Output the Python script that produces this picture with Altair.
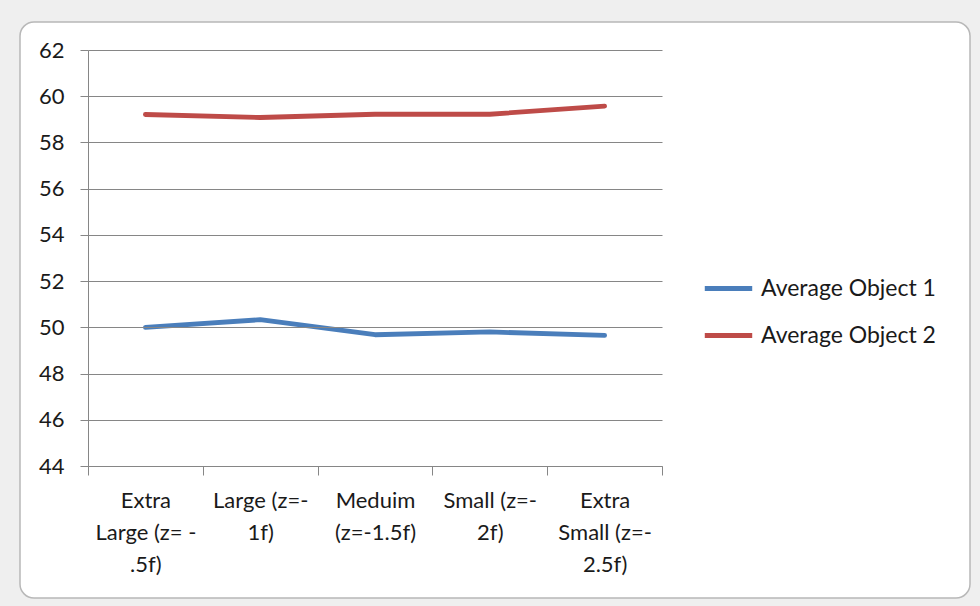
import altair as alt
import pandas as pd

# Size categories along the x axis (label lines separated by "\n")
categories = [
    "Extra\nLarge (z= -\n.5f)",
    "Large (z=-\n1f)",
    "Meduim\n(z=-1.5f)",
    "Small (z=-\n2f)",
    "Extra\nSmall (z=-\n2.5f)",
]
object1 = [50.0, 50.33, 49.68, 49.8, 49.65]
object2 = [59.21, 59.08, 59.22, 59.22, 59.57]
series_names = ["Average Object 1", "Average Object 2"]
series_colors = ["#4a7ebb", "#be4b48"]
y_ticks = list(range(44, 63, 2))

rows = []
for i, c in enumerate(categories):
    rows.append({"cat": c, "order": i, "series": series_names[0], "value": object1[i]})
    rows.append({"cat": c, "order": i, "series": series_names[1], "value": object2[i]})
df = pd.DataFrame(rows)

FONT = "Lato"
TEXT = "#1a1a1a"

frame = alt.Chart(alt.Data(values=[{}])).mark_rect(
    fill="white", stroke="#b8b8b8", strokeWidth=1.5, cornerRadius=14
).encode(
    x=alt.value(-68), x2=alt.value(882), y=alt.value(-28), y2=alt.value(548)
)

lines = alt.Chart(df).mark_line(strokeWidth=4.8, strokeCap="round", strokeJoin="round").encode(
    x=alt.X(
        "cat:N",
        sort=categories,
        title=None,
        scale=alt.Scale(paddingInner=0, paddingOuter=0),
        axis=alt.Axis(
            labelExpr="split(datum.label, '\\n')",
            labelAngle=0,
            labelAlign="center",
            labelBaseline="top",
            labelLineHeight=32,
            labelPadding=15,
            labelFontSize=22,
            labelFont=FONT,
            labelColor=TEXT,
            tickBand="extent",
            tickSize=9,
            tickColor="#868686",
            domainColor="#868686",
            grid=False,
            labelLimit=200,
            zindex=1,
        ),
    ),
    y=alt.Y(
        "value:Q",
        title=None,
        scale=alt.Scale(domain=[44, 62], nice=False, zero=False),
        axis=alt.Axis(
            values=y_ticks,
            labelFontSize=22,
            labelFont=FONT,
            labelColor=TEXT,
            labelPadding=16,
            tickSize=8,
            tickColor="#868686",
            domainColor="#868686",
            gridColor="#868686",
            gridWidth=1,
            zindex=1,
        ),
    ),
    color=alt.Color(
        "series:N",
        scale=alt.Scale(domain=series_names, range=series_colors),
        legend=alt.Legend(
            title=None,
            orient="none",
            legendX=614,
            legendY=212,
            symbolType="stroke",
            symbolSize=2250,
            symbolStrokeWidth=4.8,
            labelFontSize=23,
            labelFont=FONT,
            labelColor=TEXT,
            labelLimit=300,
            rowPadding=8,
            labelOffset=6,
            zindex=2,
        ),
    ),
    order="order:O",
)

chart = alt.layer(frame, lines).properties(
    width=574,
    height=416,
    background="#efefef",
    padding={"left": 88, "top": 50, "right": 318, "bottom": 140},
    autosize=alt.AutoSizeParams(type="none"),
).configure_view(stroke=None)

chart.save("out.html", embed_options={"renderer": "svg", "actions": False})
